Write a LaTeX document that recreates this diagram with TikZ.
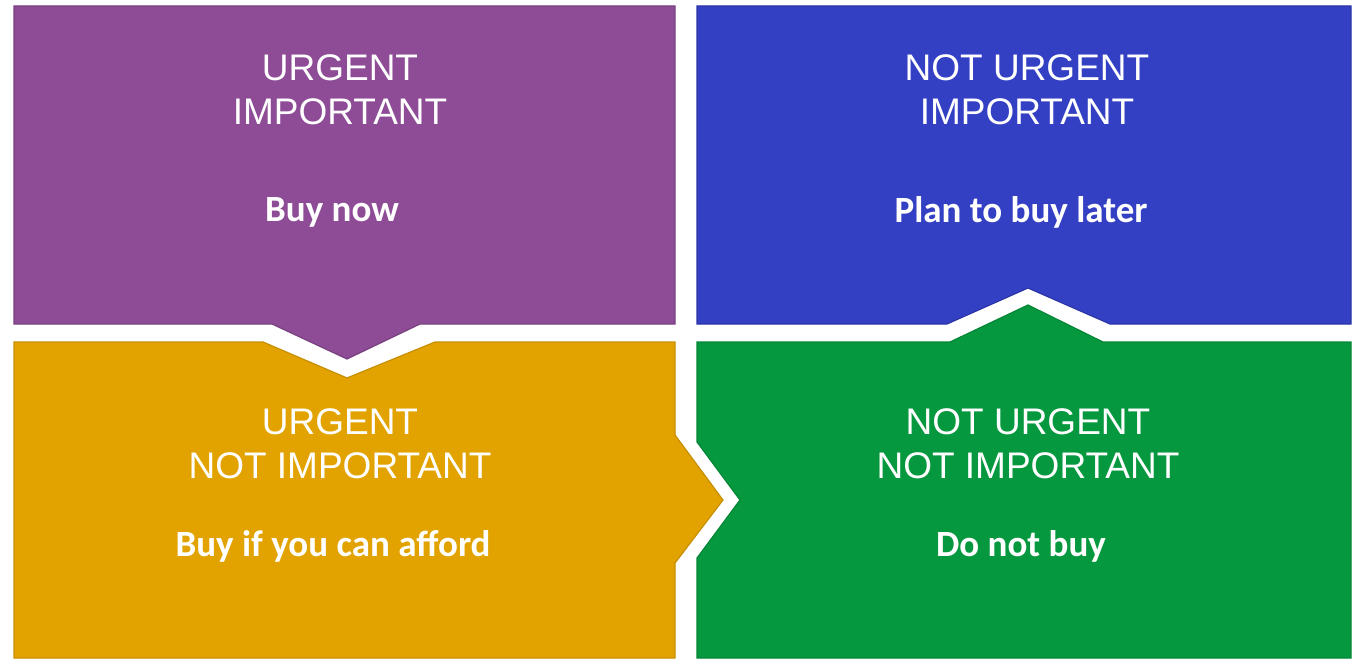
\documentclass[tikz,border=0pt]{standalone}
\usepackage{fontspec}
\setmainfont{Liberation Sans}
\newfontfamily\calib{Carlito}
\definecolor{qpurple}{RGB}{142,76,151}
\definecolor{qblue}{RGB}{52,64,196}
\definecolor{qyellow}{RGB}{226,163,0}
\definecolor{qgreen}{RGB}{6,152,62}
\begin{document}
\begin{tikzpicture}[x=1pt,y=-1pt,
  quad/.style={line width=1.2pt, line join=miter},
  head/.style={text=white, font=\fontsize{37}{44}\selectfont, align=center, inner sep=0pt},
  act/.style={text=white, font=\calib\bfseries\fontsize{37}{42}\selectfont, inner sep=0pt}]
\useasboundingbox[fill=white] (0,0) rectangle (1354,661);
% quadrants
\path[quad, fill=qpurple, draw=qpurple!85!black]
  (14,6) -- (675,6) -- (675,324) -- (420,324) -- (347,359) -- (272,324) -- (14,324) -- cycle;
\path[quad, fill=qyellow, draw=qyellow!88!black]
  (14,342) -- (263,342) -- (347,378) -- (435,342) -- (675,342) -- (675,435) -- (723,500) -- (675,563) -- (675,658) -- (14,658) -- cycle;
\path[quad, fill=qblue, draw=qblue!85!black]
  (697,6) -- (1351,6) -- (1351,324) -- (1110,324) -- (1028,288) -- (947,324) -- (697,324) -- cycle;
\path[quad, fill=qgreen, draw=qgreen!88!black]
  (697,342) -- (950,342) -- (1028,305) -- (1103,342) -- (1351,342) -- (1351,658) -- (697,658) -- (697,558) -- (740,500) -- (697,442) -- cycle;
% texts
\node[head] (h1) at (340,90) {URGENT\\IMPORTANT};
\node[act] (a1) at (332,212) {Buy now};
\node[head] (h2) at (1027,90) {NOT URGENT\\IMPORTANT};
\node[act] (a2) at (1021,212) {Plan to buy later};
\node[head] (h3) at (340,444) {URGENT\\NOT IMPORTANT};
\node[act] (a3) at (333,546) {Buy if you can afford};
\node[head] (h4) at (1028,444) {NOT URGENT\\NOT IMPORTANT};
\node[act] (a4) at (1021,546) {Do not buy};
\end{tikzpicture}
\end{document}
